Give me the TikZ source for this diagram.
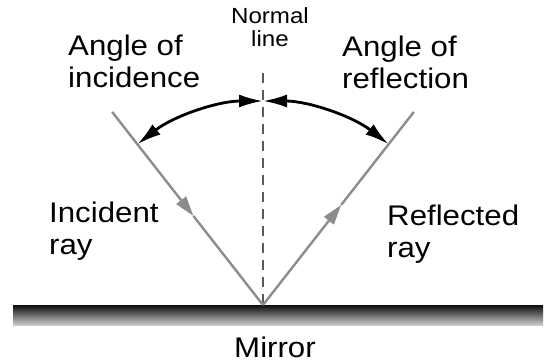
\documentclass[tikz,border=0pt]{standalone}
\usepackage{fontspec}
\setmainfont{Liberation Sans}[FakeStretch=1.1]
\usetikzlibrary{arrows.meta}
\definecolor{raygray}{HTML}{8C8C8C}
\definecolor{normalgray}{HTML}{5A5A5A}
\tikzset{
  bigtext/.style={font=\fontsize{28.5}{32}\selectfont, align=left, inner sep=0pt, anchor=base west},
  smalltext/.style={font=\fontsize{22}{24}\selectfont, align=center, inner sep=0pt, anchor=base},
  raystyle/.style={draw=raygray, line width=2.4bp},
  rayarrow/.style={raystyle, -{Triangle[length=20bp,width=12bp]}},
  anglearc/.style={line width=2.8bp, {Latex[length=24bp,width=13bp]}-{Latex[length=24bp,width=13bp]}},
  normalline/.style={draw=normalgray, line width=1.4bp, dash pattern=on 10bp off 7bp},
}

\begin{document}
\begin{tikzpicture}[x=1bp, y=1bp]
    \useasboundingbox (0,0) rectangle (550,362);

    % Mirror
    \shade[top color=black!95, middle color=black!62, bottom color=black!20] (13,37) rectangle (543,57);
    \node[font=\fontsize{28.5}{32}\selectfont, inner sep=0pt, anchor=base] (mirror) at (275,5) {Mirror};

    % Points on the rays
    \coordinate (O) at (263,57);
    \coordinate (ntop) at (263,289);
    \coordinate (inc) at ([shift={(128:245)}]O);
    \coordinate (incmid) at ([shift={(128:113)}]O);
    \coordinate (ref) at ([shift={(52:245)}]O);
    \coordinate (refmid) at ([shift={(52:127)}]O);

    % Normal line
    \draw[normalline] (ntop) -- (O);

    % Incident and reflected rays
    \draw[rayarrow] (inc) -- (incmid);
    \draw[raystyle] (incmid) -- (O);
    \draw[rayarrow] (O) -- (refmid);
    \draw[raystyle] (refmid) -- (ref);

    % Angle arcs
    \draw[anglearc] ([shift={(128:204)}]O) arc[start angle=128, end angle=90, radius=204];
    \draw[anglearc] ([shift={(52:204)}]O) arc[start angle=52, end angle=90, radius=204];

    % Labels (base = last line)
    \node[smalltext] (normal) at (270,315) {Normal\\line};
    \node[bigtext] (incidence) at (68,275) {Angle of\\incidence};
    \node[bigtext] (reflection) at (342,274) {Angle of\\reflection};
    \node[bigtext] (incident) at (49,108) {Incident\\ray};
    \node[bigtext] (reflected) at (387,105) {Reflected\\ray};
\end{tikzpicture}
\end{document}
